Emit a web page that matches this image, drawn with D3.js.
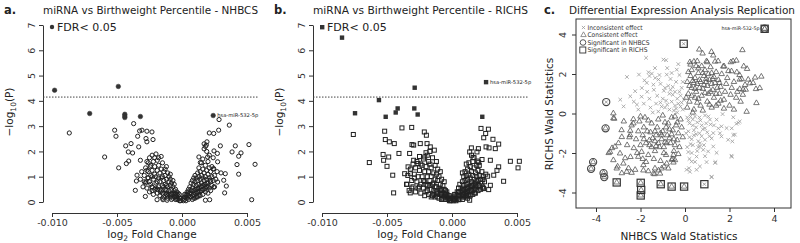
<!DOCTYPE html>
<html><head><meta charset="utf-8">
<script src="https://cdn.jsdelivr.net/npm/d3@7"></script>
<style>body{margin:0;background:#fff}svg{display:block}text{font-family:"DejaVu Sans",Verdana,sans-serif}</style>
</head><body><svg id="chart" width="800" height="243"></svg>
<script>
// ---------- Panel a: NHBCS volcano (log2FC, -log10 P) ----------
const volcanoXTicks = [-0.010, -0.005, 0.000, 0.005];
const volcanoXTickLabels = ["-0.010", "-0.005", "0.000", "0.005"];
const volcanoYTicks = [0, 1, 2, 3, 4, 5, 6, 7];
const fdrThreshold = 4.15;

const sigA = [[-0.0098,4.42],[-0.0049,4.57],[-0.0071,3.50],[-0.0044,3.47],[-0.0044,3.40],[-0.0044,3.34],[-0.0032,3.38],[0.0024,3.42]];
const labelA = [0.0024, 3.42, "hsa-miR-532-5p"];
const nsA = [
[-0.00867,2.73],[-0.00595,1.78],[-0.00518,2.84],[-0.00508,2.60],[-0.00487,1.35],[-0.00433,2.22],[-0.00413,1.98],[-0.00428,1.52],[-0.0041,1.62],[-0.00392,2.31],[-0.00372,3.10],[-0.0038,1.94],[-0.00341,2.60],[-0.00326,2.81],[-0.00333,2.18],[-0.00308,2.84],[-0.0027,2.80],[-0.00231,2.77],[-0.00277,2.51],[-0.0027,2.38],[-0.00223,2.47],[-0.00351,0.83],[-0.00346,1.06],[-0.00282,0.22],[-0.0032,1.65],[-0.00244,1.39],[-0.00359,0.46],[-0.00277,0.79],[-0.00262,0.96],[-0.00192,0.09],[-0.00146,0.09],[-0.00115,0.07],[-0.00167,0.40],[-0.00231,0.59],
[0.00285,3.26],[0.00364,3.04],[0.00282,2.84],[0.0021,2.73],[0.00244,2.71],[0.00192,2.38],[0.00187,2.25],[0.00295,2.22],[0.0041,2.22],[0.00515,2.27],[0.00454,1.94],[0.00385,1.98],[0.00436,1.81],[0.00272,1.92],[0.00246,2.02],[0.00274,1.59],[0.00423,1.48],[0.00562,1.49],[0.00333,1.12],[0.00436,1.10],[0.00321,0.86],[0.00341,0.63],[0.00328,0.36],[0.00536,0.09],[0.00213,0.09],[0.0018,0.07],[0.003,1.15],[0.0013,1.78],[0.00197,1.78],[0.00141,1.56],[0.00244,1.32],[0.00218,0.86],[0.00244,0.59],[0.00274,0.79],
[-0.0029,1.05],[-0.0028,0.75],[-0.0028,1.35],[-0.0027,0.55],[-0.0027,1.6],[-0.0026,0.95],[-0.0026,1.2],[-0.0025,0.4],[-0.0025,1.75],[-0.0025,0.8],[-0.0024,1.45],[-0.0024,1.05],[-0.0023,0.6],[-0.0023,1.85],[-0.0023,1.25],[-0.0022,0.3],[-0.0022,0.9],[-0.0022,1.6],[-0.0021,1.1],[-0.0021,0.5],[-0.0021,1.4],[-0.0020,1.9],[-0.0020,0.75],[-0.0020,1.0],[-0.0019,0.35],[-0.0019,1.25],[-0.0019,1.65],[-0.0018,0.6],[-0.0018,0.95],[-0.0018,1.45],[-0.0017,0.25],[-0.0017,1.15],[-0.0017,0.8],[-0.0016,1.8],[-0.0016,0.45],[-0.0016,1.3],[-0.0015,0.65],[-0.0015,1.0],[-0.0015,1.55],[-0.0014,0.2],[-0.0014,0.85],[-0.0014,1.2],[-0.0013,0.5],[-0.0013,1.05],[-0.0013,0.7],[-0.0012,1.4],[-0.0012,0.3],[-0.0012,0.9],[-0.0011,0.6],[-0.0011,1.15],[-0.0011,0.15],[-0.0010,0.8],[-0.0010,0.45],[-0.0010,1.0],[-0.0009,0.3],[-0.0009,0.65],[-0.0009,0.9],[-0.0008,0.5],[-0.0008,0.1],[-0.0008,0.75],[-0.0007,0.35],[-0.0007,0.6],[-0.0006,0.2],[-0.0006,0.45],[-0.0006,0.7],[-0.0005,0.3],[-0.0005,0.1],[-0.0005,0.5],[-0.0004,0.2],[-0.0004,0.4],[-0.0003,0.1],[-0.0003,0.25],[-0.0002,0.05],[-0.0002,0.15],[-0.0001,0.05],
[-0.0030,0.6],[-0.0031,1.2],[-0.0032,0.9],[-0.0026,1.55],[-0.0024,0.7],[-0.0019,0.5],[-0.0015,0.35],[-0.0012,0.65],[-0.0021,1.75],[-0.0018,1.75],[-0.0013,1.3],[-0.0009,1.1],[-0.0007,0.85],[-0.0011,0.35],[-0.0016,0.95],[-0.0023,1.0],[-0.0027,1.25],[-0.0029,0.8],
[-0.0015,0.15],[-0.0013,0.35],[-0.0011,0.25],[-0.0009,0.2],[-0.0008,0.3],[-0.0007,0.15],[-0.0006,0.35],[-0.0005,0.2],[-0.0004,0.1],[-0.0004,0.3],[-0.0003,0.35],[-0.0002,0.3],[-0.0001,0.15],[-0.0010,0.3],[-0.0012,0.45],[-0.0017,0.5],[-0.0020,0.55],[-0.0023,0.45],[-0.0014,0.6],[-0.0019,0.8],
[0.0001,0.05],[0.0002,0.1],[0.0002,0.2],[0.0003,0.05],[0.0003,0.3],[0.0004,0.15],[0.0004,0.4],[0.0005,0.25],[0.0005,0.5],[0.0005,0.1],[0.0006,0.35],[0.0006,0.6],[0.0007,0.2],[0.0007,0.45],[0.0007,0.75],[0.0008,0.1],[0.0008,0.55],[0.0008,0.85],[0.0009,0.3],[0.0009,0.7],[0.0009,0.95],[0.0010,0.15],[0.0010,0.5],[0.0010,0.8],[0.0010,1.05],[0.0011,0.35],[0.0011,0.65],[0.0011,0.95],[0.0012,0.2],[0.0012,0.55],[0.0012,0.85],[0.0012,1.15],[0.0013,0.4],[0.0013,0.7],[0.0013,1.0],[0.0013,1.35],[0.0014,0.25],[0.0014,0.6],[0.0014,0.9],[0.0014,1.2],[0.0015,0.45],[0.0015,0.75],[0.0015,1.05],[0.0015,1.55],[0.0016,0.3],[0.0016,0.65],[0.0016,0.95],[0.0016,1.3],[0.0017,0.5],[0.0017,0.85],[0.0017,1.15],[0.0017,2.1],[0.0018,0.4],[0.0018,0.7],[0.0018,1.0],[0.0018,1.45],[0.0019,0.6],[0.0019,0.9],[0.0019,1.25],[0.0019,2.0],[0.0020,0.35],[0.0020,0.75],[0.0020,1.1],[0.0020,1.6],[0.0021,0.55],[0.0021,0.95],[0.0021,1.35],[0.0022,0.45],[0.0022,0.8],[0.0022,1.2],[0.0023,0.65],[0.0023,1.0],[0.0023,1.4],[0.0024,0.85],[0.0024,1.3],[0.0025,0.6],[0.0025,1.05],[0.0026,0.9],[0.0027,1.2],[0.0017,2.3],[0.0018,2.2],[0.0016,1.7],[0.0021,1.85],[0.0024,1.75],
[0.0001,0.15],[0.0002,0.3],[0.0003,0.2],[0.0004,0.3],[0.0005,0.4],[0.0006,0.2],[0.0007,0.35],[0.0008,0.25],[0.0009,0.15],[0.0009,0.45],[0.0010,0.35],[0.0011,0.2],[0.0011,0.5],[0.0012,0.4],[0.0013,0.25],[0.0013,0.55],[0.0014,0.4],[0.0015,0.6],[0.0016,0.5],[0.0017,0.7],[0.0018,0.55],[0.0019,0.75],[0.0020,0.6]
];

// ---------- Panel b: RICHS volcano ----------
const sigB = [[-0.00846,6.50],[-0.00746,3.51],[-0.00562,4.03],[-0.0051,3.37],[-0.00433,3.54],[-0.00418,3.70],[-0.0029,3.70],[-0.00264,3.46],[-0.00287,4.52],[0.00262,4.74],[0.00233,3.37]];
const labelB = [0.00262, 4.74, "hsa-miR-532-5p"];
const nsB = [
[-0.00759,2.67],[-0.00636,1.56],[-0.00518,2.80],[-0.00513,2.47],[-0.0053,1.88],[-0.00526,1.65],[-0.005,1.41],[-0.00482,2.38],[-0.00487,1.78],[-0.00408,1.92],[-0.00449,0.36],[-0.00456,1.06],[-0.00444,2.31],[-0.00385,2.93],[-0.00364,1.12],[-0.00346,0.70],[-0.0031,2.95],[-0.00308,2.27],[-0.00295,2.25],[-0.00326,1.92],[-0.00295,1.65],[-0.00262,1.52],[-0.00338,1.39],[-0.00321,0.36],[-0.00244,2.31],[-0.00213,2.77],[-0.00197,2.64],[-0.00192,2.31],[-0.0021,1.78],[-0.00136,2.05],[-0.00167,2.18],[-0.0032,1.12],
[0.00223,2.91],[0.0028,2.88],[0.00259,2.71],[0.00244,2.54],[0.00315,2.48],[0.00359,2.29],[0.00333,2.11],[0.00262,2.18],[0.00285,2.14],[0.00203,2.11],[0.00192,1.98],[0.00149,2.14],[0.00136,1.98],[0.00162,1.76],[0.00205,1.57],[0.00195,1.62],[0.00231,1.68],[0.00295,1.65],[0.00359,1.39],[0.00449,1.61],[0.00508,1.35],[0.00518,1.61],[0.00397,0.82],[0.00321,1.06],[0.00346,1.25],[0.00274,1.02],[0.00295,0.66],[0.00282,0.49],[0.00236,0.59],[0.00238,0.89],[0.00244,0.53],[0.00136,0.07],[0.00051,0.09],[0.00115,0.26],[0.00174,0.36],
[-0.0035,0.7],[-0.0034,1.05],[-0.0033,0.45],[-0.0032,1.3],[-0.0031,0.85],[-0.0030,1.5],[-0.0030,0.6],[-0.0029,1.1],[-0.0028,0.4],[-0.0028,1.35],[-0.0027,0.8],[-0.0027,1.6],[-0.0026,1.0],[-0.0026,0.55],[-0.0025,1.25],[-0.0025,1.8],[-0.0024,0.7],[-0.0024,0.35],[-0.0023,1.45],[-0.0023,1.0],[-0.0022,0.55],[-0.0022,1.7],[-0.0021,1.2],[-0.0021,0.8],[-0.0020,1.95],[-0.0020,0.4],[-0.0020,1.4],[-0.0019,1.0],[-0.0019,0.65],[-0.0018,1.6],[-0.0018,0.3],[-0.0018,1.2],[-0.0017,0.85],[-0.0017,2.0],[-0.0016,0.5],[-0.0016,1.35],[-0.0016,1.0],[-0.0015,1.75],[-0.0015,0.25],[-0.0015,0.7],[-0.0014,1.15],[-0.0014,0.45],[-0.0013,0.9],[-0.0013,1.45],[-0.0013,0.2],[-0.0012,0.6],[-0.0012,1.1],[-0.0011,0.35],[-0.0011,0.85],[-0.0011,1.3],[-0.0010,0.55],[-0.0010,0.15],[-0.0010,1.0],[-0.0009,0.7],[-0.0009,0.3],[-0.0008,0.5],[-0.0008,0.9],[-0.0008,0.1],[-0.0007,0.35],[-0.0007,0.65],[-0.0006,0.2],[-0.0006,0.5],[-0.0005,0.3],[-0.0005,0.1],[-0.0004,0.2],[-0.0004,0.4],[-0.0003,0.1],[-0.0003,0.25],[-0.0002,0.05],[-0.0002,0.15],[-0.0001,0.05],[-0.0019,1.85],[-0.0024,1.5],[-0.0029,0.95],[-0.0012,1.6],[-0.0009,1.2],[-0.0021,0.25],[-0.0014,0.75],[-0.0031,0.55],[-0.0017,1.5],[-0.0006,0.8],
[-0.0016,0.2],[-0.0014,0.3],[-0.0012,0.4],[-0.0011,0.2],[-0.0009,0.45],[-0.0008,0.3],[-0.0007,0.15],[-0.0006,0.35],[-0.0005,0.45],[-0.0004,0.3],[-0.0003,0.15],[-0.0002,0.25],[-0.0001,0.15],[-0.0010,0.35],[-0.0019,0.45],[-0.0022,0.85],[-0.0025,0.6],[-0.0017,0.65],[-0.0013,0.6],[-0.0020,0.7],
[0.0001,0.05],[0.0002,0.1],[0.0002,0.2],[0.0003,0.05],[0.0003,0.3],[0.0004,0.15],[0.0004,0.4],[0.0005,0.25],[0.0005,0.55],[0.0006,0.1],[0.0006,0.4],[0.0006,0.7],[0.0007,0.25],[0.0007,0.55],[0.0008,0.1],[0.0008,0.45],[0.0008,0.8],[0.0009,0.3],[0.0009,0.65],[0.0009,1.0],[0.0010,0.2],[0.0010,0.5],[0.0010,0.85],[0.0010,1.2],[0.0011,0.35],[0.0011,0.7],[0.0011,1.05],[0.0012,0.15],[0.0012,0.55],[0.0012,0.9],[0.0012,1.3],[0.0013,0.4],[0.0013,0.75],[0.0013,1.1],[0.0013,1.55],[0.0014,0.25],[0.0014,0.6],[0.0014,0.95],[0.0014,1.4],[0.0015,0.45],[0.0015,0.8],[0.0015,1.2],[0.0015,1.85],[0.0016,0.3],[0.0016,0.65],[0.0016,1.05],[0.0016,1.6],[0.0017,0.5],[0.0017,0.9],[0.0017,1.35],[0.0018,0.35],[0.0018,0.75],[0.0018,1.15],[0.0019,0.6],[0.0019,1.0],[0.0019,1.45],[0.0020,0.45],[0.0020,0.85],[0.0020,1.25],[0.0021,0.65],[0.0021,1.05],[0.0022,0.5],[0.0022,0.9],[0.0023,0.75],[0.0023,1.2],[0.0024,0.55],[0.0024,1.0],[0.0025,0.8],[0.0011,1.5],[0.0017,1.75],[0.0008,1.15],[0.0021,1.45],[0.0026,1.1],
[0.0001,0.15],[0.0002,0.3],[0.0003,0.15],[0.0004,0.25],[0.0005,0.4],[0.0006,0.25],[0.0007,0.4],[0.0008,0.3],[0.0009,0.2],[0.0009,0.5],[0.0010,0.35],[0.0011,0.25],[0.0011,0.55],[0.0012,0.4],[0.0013,0.3],[0.0013,0.6],[0.0014,0.45],[0.0015,0.65],[0.0016,0.5],[0.0017,0.7],[0.0018,0.55],[0.0019,0.8],[0.0020,0.65]
];

// ---------- Panel c: Wald statistics replication ----------
const waldTicks = [-4, -2, 0, 2, 4];
const legendLabels = ["Inconsistent effect", "Consistent effect", "Significant in NHBCS", "Significant in RICHS"];
const consistent = [
[2.58,3.21],[0.64,3.24],[0.79,3.04],[1.19,3.12],[1.27,2.94],[0.22,2.60],[0.25,2.48],[0.55,2.65],[0.97,2.65],[1.49,2.65],[1.76,2.39],[2.06,2.60],[2.16,2.65],[2.31,2.68],[2.64,2.39],[2.79,2.26],[3.43,1.87],[2.84,1.72],[2.46,1.72],[2.09,2.14],[2.33,2.09],[3.36,1.29],[3.06,1.55],[2.46,1.24],[2.61,1.21],[2.73,1.21],[3.21,0.53],[2.77,0.09],[3.15,1.82],[2.55,1.74],[2.92,1.53],[3.19,1.24],[0.6,2.29],[1.72,2.38],[1.35,2.63],[0.4,2.63],
[0.1,0.3],[0.2,0.6],[0.15,1.0],[0.3,1.3],[0.1,1.6],[0.25,1.9],[0.4,0.2],[0.45,0.8],[0.5,1.1],[0.55,1.5],[0.45,1.8],[0.6,2.05],[0.7,0.4],[0.75,0.9],[0.8,1.25],[0.7,1.6],[0.85,1.9],[0.9,2.2],[1.0,0.6],[1.05,1.0],[1.0,1.4],[1.1,1.7],[1.05,2.0],[1.15,2.35],[1.2,0.3],[1.3,0.8],[1.25,1.2],[1.35,1.55],[1.3,1.85],[1.4,2.1],[1.5,0.5],[1.55,1.0],[1.6,1.35],[1.5,1.7],[1.65,2.0],[1.75,0.7],[1.8,1.1],[1.85,1.5],[1.9,1.8],[2.0,0.4],[2.05,0.95],[2.1,1.3],[2.2,1.6],[2.3,0.8],[2.35,1.1],[2.5,0.6],[2.6,0.95],[1.95,2.15],[0.35,0.05],[0.05,0.8],[0.65,1.3],[0.9,1.05],[1.2,1.5],[0.8,0.15],[1.4,0.4],[0.3,2.2],[1.75,0.25],[2.2,0.2],[0.55,0.55],[1.1,0.45],[0.2,1.4],[0.95,1.6],[1.6,0.65],[0.4,1.55],[0.75,2.4],[1.45,1.3],[1.0,2.6],[0.5,2.4],[2.45,1.95],[2.7,1.45],
[0.3,0.9],[0.6,0.75],[0.85,1.45],[1.15,1.1],[0.45,1.25],[0.95,1.75],[1.25,1.75],[0.65,1.7],[1.4,1.0],[0.35,1.65],[0.8,2.05],[1.2,2.05],[1.55,1.55],[0.15,2.1],
[-3.22,0.01],[-3.22,-0.24],[-2.85,-0.84],[-2.47,-1.09],[-2.32,-0.29],[-2.32,-0.5],[-3.37,-1.94],[-3.15,-1.68],[-2.92,-2.02],[-3.22,-2.36],[-3.07,-2.78],[-2.62,-2.95],[-2.4,-3.0],[-2.77,-2.53],[-2.1,-2.19],[-1.95,-1.94],[-1.87,-2.61],[-1.65,-2.92],[-1.42,-3.04],[-1.12,-3.04],[-1.35,-2.78],[-1.05,-2.78],[-0.82,-2.53],[-0.75,-2.78],[-0.45,-2.36],[-0.52,-2.1],[-3.18,-0.26],[-3.43,-2.0],[-3.28,-1.75],[-2.99,-1.5],[-2.84,-1.19],[-2.46,-0.87],[-2.69,-2.26],[-3.03,-2.68],[-2.84,-3.02],[-2.54,-2.77],[-2.24,-2.85],[-1.87,-2.88],[-1.37,-3.07],[-1.19,-2.88],[-0.94,-2.68],[-0.6,-2.34],[-0.52,-2.48],[-0.82,-1.5],
[-0.2,-0.3],[-0.4,-0.6],[-0.3,-1.0],[-0.5,-1.3],[-0.25,-1.7],[-0.6,-0.2],[-0.7,-0.8],[-0.8,-1.1],[-0.65,-1.5],[-0.5,-1.9],[-0.9,-0.45],[-1.0,-0.9],[-1.05,-1.3],[-0.95,-1.7],[-0.85,-2.1],[-1.2,-0.3],[-1.25,-0.7],[-1.3,-1.1],[-1.2,-1.5],[-1.35,-1.9],[-1.5,-0.5],[-1.55,-0.95],[-1.6,-1.35],[-1.5,-1.7],[-1.65,-2.1],[-1.8,-0.2],[-1.85,-0.7],[-1.9,-1.1],[-1.75,-1.5],[-2.0,-1.6],[-2.05,-0.4],[-2.1,-0.9],[-2.2,-1.3],[-2.3,-1.75],[-2.4,-0.6],[-2.5,-1.2],[-2.6,-1.6],[-1.4,-2.3],[-1.1,-2.4],[-1.9,-2.3],[-0.15,-0.7],[-0.35,-1.35],[-0.75,-0.5],[-1.1,-1.0],[-1.45,-1.25],[-1.7,-0.9],[-2.0,-0.15],[-0.55,-2.3],[-2.75,-0.4],[-1.0,-0.1],[-0.1,-1.2],[-0.45,-0.15],[-1.3,-1.65],[-1.65,-0.35],[-2.15,-2.0],[-0.9,-1.45],[-0.6,-1.05],[-1.75,-2.45],[-2.45,-2.2],[-0.3,-2.05],
[-0.35,-0.45],[-0.55,-0.85],[-0.85,-0.7],[-1.05,-1.1],[-0.7,-1.25],[-1.35,-0.9],[-1.15,-1.7],[-0.45,-1.6],[-1.6,-1.6],[-1.85,-1.3],[-1.35,-1.4],[-0.95,-2.0]
];
const inconsistent = [
[-1.75,2.82],[-2.61,1.85],[-2.07,1.97],[-1.64,2.09],[-1.49,2.02],[-1.34,1.8],[-1.19,1.72],[-0.97,2.73],[-0.85,2.7],[-0.37,2.22],[-0.82,1.97],[-2.24,1.13],[-2.46,0.87],[-2.76,0.36],[-2.91,0.70],[-2.16,0.45],[-1.94,1.29],[-1.72,1.55],[-1.82,1.68],[-1.42,1.46],
[-0.1,0.2],[-0.3,0.5],[-0.2,0.9],[-0.15,1.3],[-0.4,1.6],[-0.5,0.15],[-0.6,0.6],[-0.7,1.0],[-0.55,1.35],[-0.65,1.75],[-0.9,0.3],[-1.0,0.75],[-0.95,1.15],[-1.1,1.5],[-1.2,0.1],[-1.3,0.5],[-1.25,0.9],[-1.4,1.2],[-1.55,0.3],[-1.6,0.75],[-1.7,1.1],[-1.85,0.5],[-1.95,0.85],[-2.1,0.2],[-0.25,1.95],[-0.8,2.3],[-0.35,0.05],[-0.8,0.45],[-1.05,0.35],[-0.45,1.1],[-1.45,0.05],[-0.1,1.6],[-0.75,1.4],[-1.15,1.95],[-0.3,2.5],[-1.6,1.9],[-2.3,0.6],[-0.05,0.7],[-0.6,2.05],[-1.35,2.3],
[-0.2,0.35],[-0.45,0.4],[-0.7,0.2],[-0.35,0.75],[-0.85,0.65],[-0.55,0.95],[-0.25,1.1],[-1.1,0.55],[-0.15,0.55],[-0.9,1.3],[-0.4,0.25],[-0.65,1.2],
[1.19,-3.22],[0.52,-2.85],[0.67,-2.68],[0.97,-2.46],[1.37,-2.46],[2.09,-2.14],[2.24,-1.07],[2.13,-1.41],[1.94,-1.33],[1.64,-1.16],[1.64,-0.65],[1.27,-1.67],[1.04,-1.92],[0.82,-1.84],[0.67,-1.67],[0.52,-2.18],[0.30,-2.43],[0.18,-2.77],[0.07,-2.85],[2.46,-0.4],[2.31,-0.52],[1.87,-0.74],[1.42,-0.31],[1.12,-0.31],[1.27,-0.99],[0.9,-1.33],[1.69,-0.03],[2.17,-0.19],[2.4,-0.47],[2.1,-0.75],[2.17,-1.09],[1.57,-1.0],[1.5,-0.75],[1.2,-1.26],[1.42,-1.99],[1.35,-2.5],[2.1,-2.19],[0.9,-2.16],[1.2,-3.21],[0.45,-2.45],[0.22,-2.95],[0.67,-1.51],
[0.1,-0.2],[0.2,-0.5],[0.15,-0.9],[0.3,-1.3],[0.1,-1.7],[0.45,-0.15],[0.5,-0.7],[0.4,-1.1],[0.6,-1.4],[0.7,-0.35],[0.8,-0.8],[0.75,-1.15],[0.95,-0.5],[1.0,-0.95],[1.05,-0.15],[0.3,-2.0],[0.2,-2.3],[0.55,-1.9],[0.05,-1.0],[0.35,-0.3],[0.65,-1.0],[0.9,-0.1],[1.3,-0.6],[0.25,-1.55],[0.85,-1.6],
[0.15,-0.35],[0.35,-0.6],[0.25,-0.15],[0.55,-0.45],[0.4,-0.85],[0.65,-0.2],[0.2,-1.2],[0.75,-0.6],[0.5,-1.05],[0.9,-0.75],[1.15,-0.55],[0.35,-1.6],[1.1,-1.15],[0.6,-1.7],[0.15,-1.95]
];
const sigNHBCS = [[-3.54,0.58],[-3.57,-0.75],[-4.13,-2.46],[-4.22,-2.80],[-3.66,-3.02],[-3.63,-3.22],[3.58,4.29]];
const sigRICHS = [[-0.06,3.53],[-3.07,-3.49],[-1.99,-3.51],[-1.97,-3.87],[-1.99,-4.15],[-1.09,-3.58],[-0.60,-3.70],[-0.04,-3.70],[0.87,-3.58],[3.58,4.29]];
const labelC = [3.58, 4.29, "hsa-miR-532-5p"];

// ================= drawing =================
const svg = d3.select("#chart");
const ink = "#222";

function crossPath(x, y, s) {
  return `M${x-s},${y-s}L${x+s},${y+s}M${x-s},${y+s}L${x+s},${y-s}`;
}

function volcano(dx, letter, title, sig, ns, shape, label) {
  const g = svg.append("g");
  const x = d3.scaleLinear().domain([-0.010, 0.005]).range([52 + dx, 247 + dx]);
  const y = d3.scaleLinear().domain([0, 7]).range([202, 25]);

  g.append("text").attr("x", 4 + dx).attr("y", 14).attr("font-weight", "bold").attr("font-size", 11.5).attr("fill", ink).text(letter);
  g.append("text").attr("x", 43 + dx).attr("y", 14).attr("font-size", 10).attr("fill", ink)
    .attr("textLength", 215).attr("lengthAdjust", "spacingAndGlyphs").text(title);

  // x axis
  const xa = g.append("g").attr("transform", "translate(0,213)")
    .call(d3.axisBottom(x).tickValues(volcanoXTicks).tickFormat((d, i) => volcanoXTickLabels[i]).tickSize(4).tickSizeOuter(0).tickPadding(2));
  xa.selectAll("text").attr("font-size", 9.5).attr("fill", "#333").style("font-family", "DejaVu Sans");
  xa.selectAll("line,path").attr("stroke", "#333");
  // y axis
  const ya = g.append("g").attr("transform", `translate(${43 + dx},0)`)
    .call(d3.axisLeft(y).tickValues(volcanoYTicks).tickFormat(d3.format("d")).tickSize(4).tickSizeOuter(0));
  ya.selectAll("text").attr("font-size", 9.5).attr("fill", "#333").style("font-family", "DejaVu Sans")
    .attr("x", null).attr("dy", null).attr("text-anchor", "middle").attr("transform", "translate(-8,0) rotate(-90)");
  ya.selectAll("line,path").attr("stroke", "#333");

  // axis titles
  const xt = g.append("text").attr("x", 152 + dx).attr("y", 237.5).attr("text-anchor", "middle").attr("font-size", 10.5).attr("fill", ink);
  xt.append("tspan").text("log");
  xt.append("tspan").attr("dy", 3).attr("font-size", 7.5).text("2");
  xt.append("tspan").attr("dy", -3).text(" Fold Change");
  const yt = g.append("text").attr("transform", `translate(${13 + dx},112) rotate(-90)`).attr("text-anchor", "middle").attr("font-size", 10.5).attr("fill", ink);
  yt.append("tspan").text("\u2212log");
  yt.append("tspan").attr("dy", 3).attr("font-size", 7.5).text("10");
  yt.append("tspan").attr("dy", -3).text("(P)");

  // threshold
  g.append("line").attr("x1", 43 + dx).attr("x2", 258 + dx).attr("y1", y(fdrThreshold)).attr("y2", y(fdrThreshold))
    .attr("stroke", "#444").attr("stroke-width", 1).attr("stroke-dasharray", "1.5,1.5");

  // points
  const pg = g.append("g");
  if (shape === "circle") {
    pg.selectAll("circle.ns").data(ns).join("circle").attr("cx", d => x(d[0])).attr("cy", d => y(d[1])).attr("r", 2.1)
      .attr("fill", "none").attr("stroke", ink).attr("stroke-width", 1);
    pg.selectAll("circle.sig").data(sig).join("circle").attr("class", "sig").attr("cx", d => x(d[0])).attr("cy", d => y(d[1])).attr("r", 2.3)
      .attr("fill", "#333").attr("stroke", "#333").attr("stroke-width", 0.5);
  } else {
    pg.selectAll("rect.ns").data(ns).join("rect").attr("class", "ns").attr("x", d => x(d[0]) - 2).attr("y", d => y(d[1]) - 2).attr("width", 4).attr("height", 4)
      .attr("fill", "none").attr("stroke", ink).attr("stroke-width", 1);
    pg.selectAll("rect.sig").data(sig).join("rect").attr("class", "sig").attr("x", d => x(d[0]) - 2.2).attr("y", d => y(d[1]) - 2.2).attr("width", 4.4).attr("height", 4.4)
      .attr("fill", "#333");
  }
  g.append("text").attr("x", x(label[0]) + 4).attr("y", y(label[1]) + 1.8).attr("font-size", 5.2).attr("fill", ink).text(label[2]);

  // legend
  if (shape === "circle") {
    g.append("circle").attr("cx", 52 + dx).attr("cy", 27).attr("r", 2.2).attr("fill", "#333");
  } else {
    g.append("rect").attr("x", 50 + dx).attr("y", 25).attr("width", 4.4).attr("height", 4.4).attr("fill", "#333");
  }
  g.append("text").attr("x", 57 + dx).attr("y", 31).attr("font-size", 11).attr("fill", ink).text("FDR< 0.05");
}

volcano(0, "a.", "miRNA vs Birthweight Percentile - NHBCS", sigA, nsA, "circle", labelA);
volcano(270, "b.", "miRNA vs Birthweight Percentile - RICHS", sigB, nsB, "square", labelB);

// ---------- panel c ----------
(function () {
  const g = svg.append("g");
  const x = d3.scaleLinear().domain([-4, 4]).range([596, 774]);
  const y = d3.scaleLinear().domain([-4, 4]).range([192.5, 34.5]);
  g.append("text").attr("x", 544).attr("y", 14).attr("font-weight", "bold").attr("font-size", 11.5).attr("fill", ink).text("c.");
  g.append("text").attr("x", 569).attr("y", 14).attr("font-size", 10.5).attr("fill", ink)
    .attr("textLength", 226).attr("lengthAdjust", "spacingAndGlyphs").text("Differential Expression Analysis Replication");

  g.append("rect").attr("x", 576).attr("y", 19).attr("width", 215).attr("height", 189).attr("fill", "none").attr("stroke", "#333").attr("stroke-width", 1);

  const xa = g.append("g").attr("transform", "translate(0,208)")
    .call(d3.axisBottom(x).tickValues(waldTicks).tickFormat(d3.format("d")).tickSize(4).tickSizeOuter(0).tickPadding(3));
  xa.select(".domain").remove();
  xa.selectAll("text").attr("font-size", 9.5).attr("fill", "#333").style("font-family", "DejaVu Sans").text(d => String(d));
  xa.selectAll("line").attr("stroke", "#333");
  const ya = g.append("g").attr("transform", "translate(576,0)")
    .call(d3.axisLeft(y).tickValues(waldTicks).tickSize(4).tickSizeOuter(0));
  ya.select(".domain").remove();
  ya.selectAll("text").attr("font-size", 9.5).attr("fill", "#333").style("font-family", "DejaVu Sans").text(d => String(d))
    .attr("x", null).attr("dy", null).attr("text-anchor", "middle").attr("transform", "translate(-10,0) rotate(-90)");
  ya.selectAll("line").attr("stroke", "#333");

  g.append("text").attr("x", 679).attr("y", 240).attr("text-anchor", "middle").attr("font-size", 10.5).attr("fill", ink).text("NHBCS Wald Statistics");
  g.append("text").attr("transform", "translate(553,114) rotate(-90)").attr("text-anchor", "middle").attr("font-size", 10.5).attr("fill", ink).text("RICHS Wald Statistics");

  const tri = d3.symbol(d3.symbolTriangle, 13);
  const pg = g.append("g");
  pg.selectAll("path.inc").data(inconsistent).join("path").attr("class", "inc")
    .attr("d", d => crossPath(x(d[0]), y(d[1]), 1.8)).attr("stroke", "#9a9a9a").attr("stroke-width", 0.8).attr("fill", "none");
  pg.selectAll("path.con").data(consistent).join("path").attr("class", "con")
    .attr("transform", d => `translate(${x(d[0])},${y(d[1])})`).attr("d", tri).attr("stroke", "#555").attr("stroke-width", 0.8).attr("fill", "none");

  // significant points: inner symbol by effect direction, then outline
  const sigAll = sigNHBCS.concat(sigRICHS);
  pg.selectAll("path.inner").data(sigAll.filter(d => d[0] * d[1] <= 0)).join("path").attr("class", "inner")
    .attr("d", d => crossPath(x(d[0]), y(d[1]), 1.6))
    .attr("stroke", "#888").attr("stroke-width", 0.8).attr("fill", "none");
  pg.selectAll("path.innerT").data(sigAll.filter(d => d[0] * d[1] > 0)).join("path").attr("class", "innerT")
    .attr("transform", d => `translate(${x(d[0])},${y(d[1])})`).attr("d", tri).attr("stroke", "#666").attr("stroke-width", 0.8).attr("fill", "none");
  pg.selectAll("circle.sn").data(sigNHBCS).join("circle").attr("class", "sn")
    .attr("cx", d => x(d[0])).attr("cy", d => y(d[1])).attr("r", 3.6).attr("fill", "none").attr("stroke", "#444").attr("stroke-width", 1.1);
  pg.selectAll("rect.sr").data(sigRICHS).join("rect").attr("class", "sr")
    .attr("x", d => x(d[0]) - 3.6).attr("y", d => y(d[1]) - 3.6).attr("width", 7.2).attr("height", 7.2).attr("fill", "none").attr("stroke", "#333").attr("stroke-width", 1.2);
  g.append("text").attr("x", x(labelC[0]) - 5).attr("y", y(labelC[1]) + 1.6).attr("text-anchor", "end").attr("font-size", 4.8).attr("fill", ink).text(labelC[2]);

  // legend
  const lg = g.append("g");
  const ly = [27.5, 35, 42.5, 50];
  lg.append("path").attr("d", crossPath(583.5, ly[0], 1.6)).attr("stroke", "#999").attr("stroke-width", 0.8);
  lg.append("path").attr("transform", `translate(583.5,${ly[1]})`).attr("d", tri).attr("fill", "none").attr("stroke", "#777").attr("stroke-width", 0.8);
  lg.append("circle").attr("cx", 583).attr("cy", ly[2]).attr("r", 2.8).attr("fill", "none").attr("stroke", "#444").attr("stroke-width", 0.9);
  lg.append("rect").attr("x", 579.8).attr("y", ly[3] - 3).attr("width", 6).attr("height", 6).attr("fill", "none").attr("stroke", "#333").attr("stroke-width", 0.9);
  const lw = [55, 50, 62, 60];
  lg.selectAll("text").data(legendLabels).join("text").attr("x", 587.5).attr("y", (d, i) => ly[i] + 2.3)
    .attr("font-size", 6.5).attr("fill", "#333").attr("textLength", (d, i) => lw[i]).attr("lengthAdjust", "spacingAndGlyphs").text(d => d);
})();
</script></body></html>
